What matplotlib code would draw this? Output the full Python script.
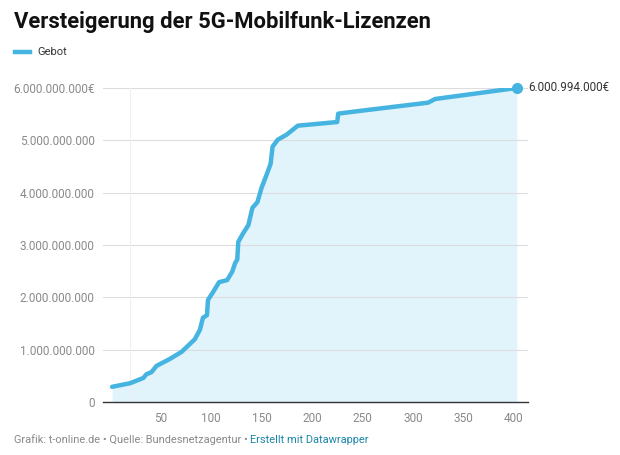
import matplotlib
matplotlib.use("Agg")
import matplotlib.pyplot as plt
from matplotlib.ticker import FuncFormatter

# Gebotsrunden und Höchstgebot (Summe, in Mrd. Euro)
runde = [2, 20, 33, 36, 41, 46, 59, 71, 84, 89, 92, 96, 97, 102, 108, 116,
         121, 124, 126, 127, 132, 137, 141, 146, 150, 155, 159, 161, 166,
         175, 186, 225, 226, 238, 315, 322, 403]
gebot_mrd = [0.29, 0.36, 0.46, 0.53, 0.57, 0.69, 0.82, 0.96, 1.20, 1.38,
             1.61, 1.66, 1.95, 2.10, 2.29, 2.33, 2.49, 2.66, 2.72, 3.06,
             3.23, 3.38, 3.71, 3.82, 4.09, 4.34, 4.55, 4.88, 5.01, 5.11,
             5.28, 5.35, 5.51, 5.54, 5.72, 5.79, 6.000994]
gebot = [v * 1e9 for v in gebot_mrd]
x_ticks = [50, 100, 150, 200, 250, 300, 350, 400]
y_ticks = [0, 1e9, 2e9, 3e9, 4e9, 5e9, 6e9]

BLUE = "#45b4e1"
FILL = "#e1f3fb"
GREY = "#8a8a8a"
plt.rcParams["font.family"] = ["Roboto", "DejaVu Sans"]

fig = plt.figure(figsize=(6.2, 4.55), dpi=100)
ax = fig.add_axes([103 / 620, 53 / 455, 425 / 620, 314 / 455])

ax.fill_between(runde, gebot, 0, color=FILL, lw=0)
ax.plot(runde, gebot, color=BLUE, lw=3.2, solid_capstyle="round",
        solid_joinstyle="round", zorder=3)
ax.plot(runde[-1], gebot[-1], "o", color=BLUE, ms=7, zorder=4, clip_on=False)
ax.annotate("6.000.994.000€", (runde[-1], gebot[-1]), xytext=(8, 0),
            textcoords="offset points", va="center", ha="left",
            fontsize=8.4, color="#333333", annotation_clip=False)

ax.set_xlim(-7, 414)
ax.set_ylim(0, 6e9)
ax.set_xticks(x_ticks)
ax.set_yticks(y_ticks)

def fmt_y(v, pos):
    s = "{:,.0f}".format(v).replace(",", ".")
    return s + "€" if v == 6e9 else s

ax.yaxis.set_major_formatter(FuncFormatter(fmt_y))
ax.tick_params(axis="both", length=0, labelsize=8.5, labelcolor=GREY)
ax.tick_params(axis="y", pad=6)
ax.tick_params(axis="x", pad=7)

for y in y_ticks[1:]:
    ax.axhline(y, color="#dddddd", lw=0.8, zorder=1)
ax.axvline(20, color="#f0f0f0", lw=0.8, zorder=1)

for side in ["top", "right", "left"]:
    ax.spines[side].set_visible(False)
ax.spines["bottom"].set_color("#333333")
ax.spines["bottom"].set_linewidth(1)

fig.text(14 / 620, 1 - 22 / 455, "Versteigerung der 5G-Mobilfunk-Lizenzen",
         fontsize=15.8, fontweight="bold", color="#111111", va="center")
fig.lines.append(plt.Line2D([15 / 620, 30 / 620], [1 - 52 / 455] * 2,
                            color=BLUE, lw=3.2, transform=fig.transFigure))
fig.text(37 / 620, 1 - 52 / 455, "Gebot", fontsize=8, color="#333333",
         va="center")

# Fußzeile: zweiter Teil direkt hinter dem ersten
src = fig.text(14 / 620, 1 - 440 / 455,
               "Grafik: t-online.de • Quelle: Bundesnetzagentur • ",
               fontsize=7.9, color=GREY, va="center")
fig.canvas.draw()
bb = src.get_window_extent().transformed(fig.transFigure.inverted())
fig.text(bb.x1, 1 - 440 / 455, "Erstellt mit Datawrapper",
         fontsize=7.9, color="#1d86a8", va="center")

fig.savefig("out.png", dpi=100)
